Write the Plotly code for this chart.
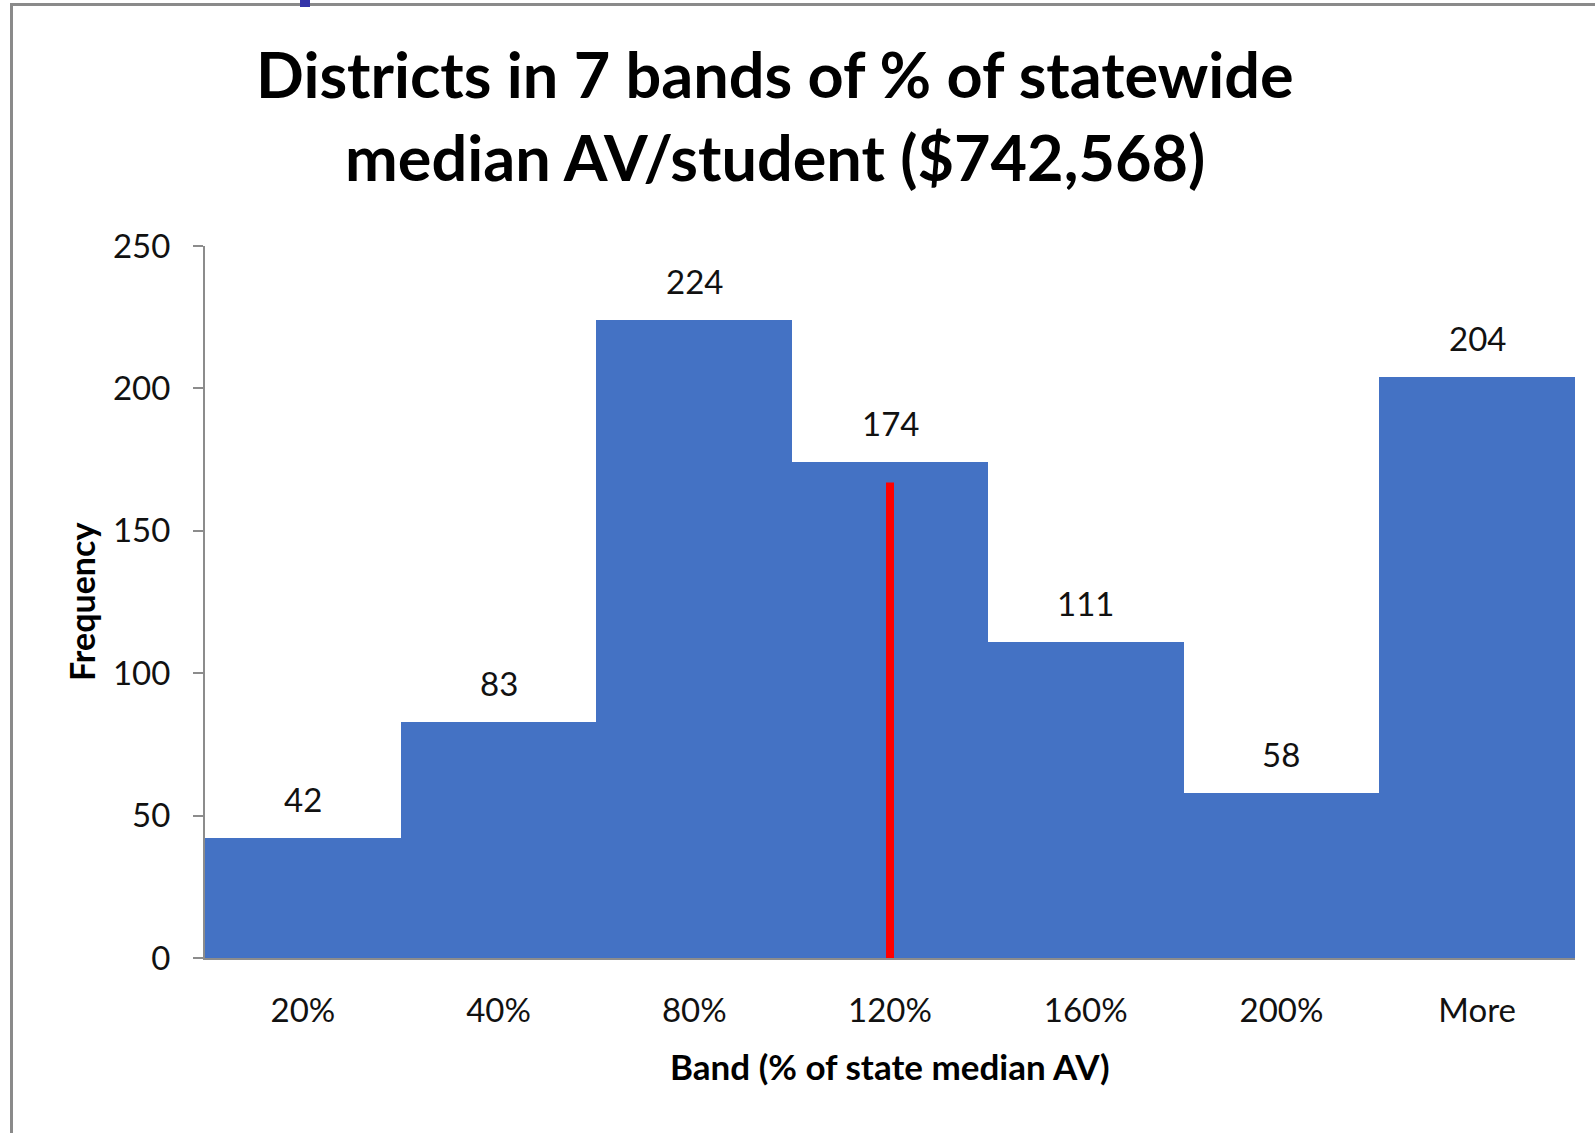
import plotly.graph_objects as go

# Histogram of districts by band of statewide median AV/student
bands = ["20%", "40%", "80%", "120%", "160%", "200%", "More"]
frequency = [42, 83, 224, 174, 111, 58, 204]
y_ticks = [0, 50, 100, 150, 200, 250]

# Vertical marker drawn in the median band
median_band = "120%"
median_marker_height = 167

title_lines = ["Districts in 7 bands of % of statewide", "median AV/student ($742,568)"]
x_title = "Band (% of state median AV)"
y_title = "Frequency"

W, H = 1595, 1133
L, R, T, B = 205, 20, 246, 175
plot_w = W - L - R
plot_h = H - T - B

FONT = "Lato"
BAR_BLUE = "#4472C4"
AXIS_GREY = "#8c8c8c"


def px_x(px):
    return (px - L) / plot_w


def px_y(py):
    return (H - B - py) / plot_h


fig = go.Figure()

fig.add_trace(go.Bar(
    x=bands,
    y=frequency,
    marker=dict(color=BAR_BLUE, line=dict(width=0)),
    hoverinfo="x+y",
))

fig.add_trace(go.Scatter(
    x=[median_band, median_band],
    y=[0, median_marker_height],
    mode="lines",
    line=dict(color="#FF0000", width=8),
    hoverinfo="skip",
))

annotations = []
for band, value in zip(bands, frequency):
    annotations.append(dict(
        x=band, y=value, xref="x", yref="y",
        text=str(value), showarrow=False,
        yanchor="middle", yshift=39,
        font=dict(family=FONT, size=33, color="#111111"),
    ))

# Two-line chart title
for text, ypx in zip(title_lines, [74, 156]):
    annotations.append(dict(
        x=px_x(775), y=px_y(ypx), xref="paper", yref="paper",
        text=f"<b>{text}</b>", showarrow=False,
        xanchor="center", yanchor="middle",
        font=dict(family=FONT, size=63, color="#000000"),
    ))

annotations.append(dict(
    x=px_x(890), y=px_y(1066), xref="paper", yref="paper",
    text=f"<b>{x_title}</b>", showarrow=False,
    xanchor="center", yanchor="middle",
    font=dict(family=FONT, size=35, color="#000000"),
))
annotations.append(dict(
    x=px_x(81), y=px_y(602), xref="paper", yref="paper",
    text=f"<b>{y_title}</b>", showarrow=False, textangle=-90,
    xanchor="center", yanchor="middle",
    font=dict(family=FONT, size=34, color="#000000"),
))

shapes = [
    # outer chart frame
    dict(type="rect", xref="paper", yref="paper",
         x0=px_x(11.5), x1=px_x(1620), y0=px_y(1160), y1=px_y(4.5),
         line=dict(color="#8a8a8a", width=3), fillcolor="rgba(0,0,0,0)", layer="below"),
    # small blue tab on the top edge
    dict(type="rect", xref="paper", yref="paper",
         x0=px_x(300), x1=px_x(310), y0=px_y(7), y1=px_y(-5),
         line=dict(width=0), fillcolor="#3434a8"),
]

fig.update_layout(
    width=W, height=H,
    margin=dict(l=L, r=R, t=T, b=B),
    paper_bgcolor="white",
    plot_bgcolor="white",
    showlegend=False,
    bargap=0,
    annotations=annotations,
    shapes=shapes,
    font=dict(family=FONT, color="#111111"),
)

fig.update_xaxes(
    type="category",
    range=[-0.5, 6.5],
    showline=True, linecolor=AXIS_GREY, linewidth=2,
    ticks="", showgrid=False, zeroline=False,
    tickfont=dict(family=FONT, size=33, color="#111111"),
    ticklabelstandoff=22,
)

fig.update_yaxes(
    range=[0, 250],
    tickvals=y_ticks,
    showline=True, linecolor=AXIS_GREY, linewidth=2,
    ticks="outside", ticklen=10, tickwidth=2, tickcolor=AXIS_GREY,
    showgrid=False, zeroline=False,
    tickfont=dict(family=FONT, size=33, color="#111111"),
    ticklabelstandoff=16,
)

fig.write_html("out.html")
